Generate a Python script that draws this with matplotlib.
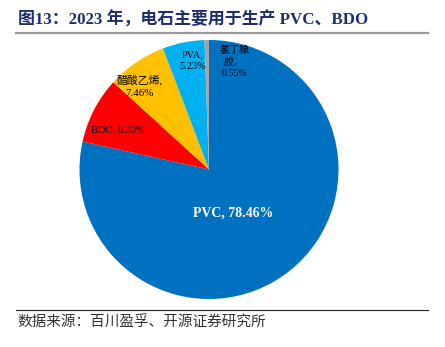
import matplotlib.pyplot as plt
from matplotlib.lines import Line2D

# 2023 年电石下游消费结构
labels = ["PVC", "BDO", "醋酸乙烯", "PVA", "氯丁橡胶"]
shares = [78.46, 8.30, 7.46, 5.23, 0.55]
colors = ["#0070C0", "#FF0000", "#FFC000", "#00B0F0", "#A5A5A5"]

title = "图13：2023 年，电石主要用于生产 PVC、BDO"
source = "数据来源：百川盈孚、开源证券研究所"

SERIF = ["Liberation Serif", "Noto Sans CJK SC"]
CJK = ["Noto Sans CJK SC", "DejaVu Sans"]

W, H = 445, 347
fig = plt.figure(figsize=(W / 100, H / 100), dpi=100)

# 饼图坐标轴（像素换算到 figure 坐标）
cx, cy, r = 209, 169.5, 129.5
ax = fig.add_axes([(cx - r) / W, 1 - (cy + r) / H, 2 * r / W, 2 * r / H])
ax.pie(shares, colors=colors, startangle=90, counterclock=False,
       wedgeprops=dict(linewidth=0))
ax.set_xlim(-1, 1)
ax.set_ylim(-1, 1)
ax.set_aspect("equal")

# 各扇区标签
ax.text(0.19, -0.335, f"{labels[0]}, {shares[0]:.2f}%", color="white",
        fontsize=10, fontweight="bold", family=SERIF, ha="center", va="center")
ax.text(-0.705, 0.306, f"{labels[1]}, {shares[1]:.2f}%", color="black",
        fontsize=7.5, family=SERIF, ha="center", va="center")
ax.text(-0.535, 0.64, f"{labels[2]},\n{shares[2]:.2f}%", color="black",
        fontsize=7.8, family=SERIF, ha="center", va="center", linespacing=1.3)
ax.text(-0.124, 0.84, f"{labels[3]},\n{shares[3]:.2f}%", color="black",
        fontsize=7.5, family=SERIF, ha="center", va="center", linespacing=1.3)
ax.text(0.194, 0.833, "氯丁橡\n胶，\n" + f"{shares[4]:.2f}%", color="black",
        fontsize=7.2, family=SERIF, ha="center", va="center", linespacing=1.35)

# 标题与分隔线
fig.text(18 / W, 1 - 20 / H, title, color="#1F2F6E", fontsize=12.2,
         fontweight="bold", family=SERIF, ha="left", va="center")
fig.add_artist(Line2D([16 / W, 428 / W], [1 - 32.5 / H, 1 - 32.5 / H],
                      color="#9A9A9A", linewidth=1.6, transform=fig.transFigure))
fig.add_artist(Line2D([16 / W, 428 / W], [1 - 310 / H, 1 - 310 / H],
                      color="#222222", linewidth=0.8, transform=fig.transFigure))
fig.text(17 / W, 1 - 322.5 / H, source, color="#333333", fontsize=10.5,
         family=CJK, ha="left", va="center")

fig.savefig("out.png", dpi=100)
